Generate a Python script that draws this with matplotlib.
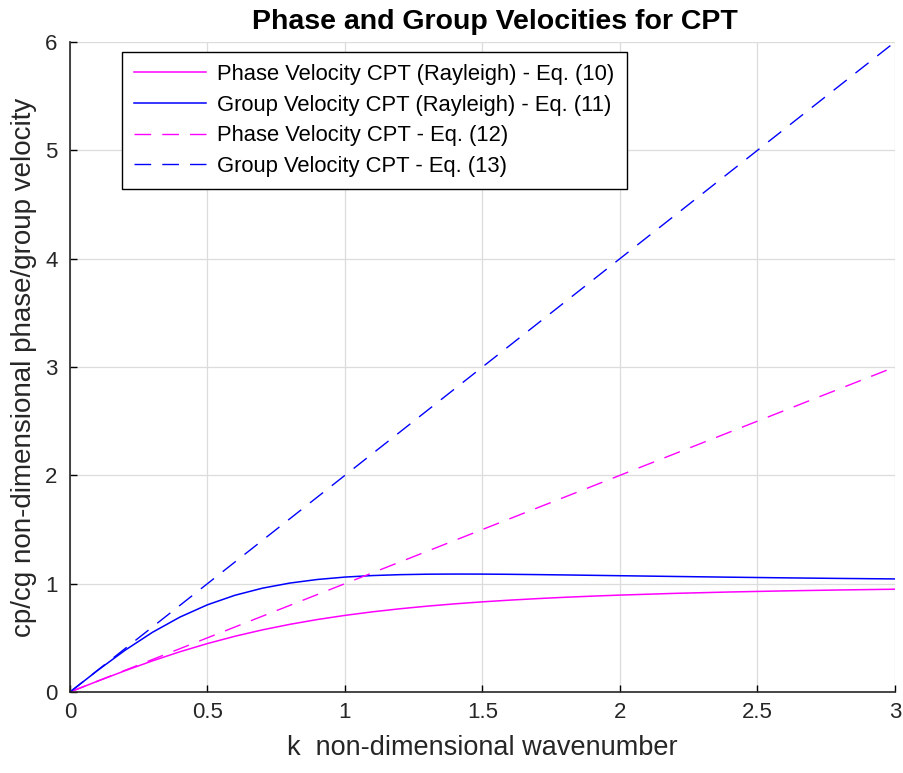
import matplotlib
matplotlib.use("Agg")
import matplotlib.pyplot as plt

plt.rcParams["font.family"] = ["Liberation Sans", "DejaVu Sans"]

# wavenumber samples (non-dimensional)
k = [0.0, 0.1, 0.2, 0.3, 0.4, 0.5, 0.6, 0.7, 0.8, 0.9, 1.0, 1.1, 1.2, 1.3,
     1.4, 1.5, 1.6, 1.7, 1.8, 1.9, 2.0, 2.2, 2.4, 2.6, 2.8, 3.0]

# Rayleigh phase velocity - Eq. (10)
cp_rayleigh = [0.0, 0.0995, 0.1961, 0.2873, 0.3714, 0.4472, 0.5145, 0.5735,
               0.6247, 0.6690, 0.7071, 0.7399, 0.7682, 0.7926, 0.8137, 0.8321,
               0.8480, 0.8619, 0.8742, 0.8849, 0.8944, 0.9104, 0.9231, 0.9333,
               0.9417, 0.9487]

# Rayleigh group velocity - Eq. (11)
cg_rayleigh = [0.0, 0.1980, 0.3847, 0.5509, 0.6916, 0.8050, 0.8928, 0.9584,
               1.0056, 1.0386, 1.0607, 1.0747, 1.0830, 1.0873, 1.0886, 1.0881,
               1.0862, 1.0835, 1.0804, 1.0769, 1.0733, 1.0663, 1.0597, 1.0536,
               1.0482, 1.0436]

# classical plate: phase - Eq. (12), group - Eq. (13)
k_cpt = [0.0, 3.0]
cp_cpt = [0.0, 3.0]
cg_cpt = [0.0, 6.0]

fig = plt.figure(figsize=(9.04, 7.73), dpi=100)
ax = fig.add_axes([0.0774, 0.1048, 0.9126, 0.8409])

dash = (0, (12, 8))
ax.plot(k, cp_rayleigh, color="#ff00ff", linewidth=1.1,
        label="Phase Velocity CPT (Rayleigh) - Eq. (10)")
ax.plot(k, cg_rayleigh, color="#0000ff", linewidth=1.1,
        label="Group Velocity CPT (Rayleigh) - Eq. (11)")
ax.plot(k_cpt, cp_cpt, color="#ff00ff", linewidth=1.0, linestyle=dash,
        label="Phase Velocity CPT - Eq. (12)")
ax.plot(k_cpt, cg_cpt, color="#0000ff", linewidth=1.0, linestyle=dash,
        label="Group Velocity CPT - Eq. (13)")

ax.set_xlim(0, 3)
ax.set_ylim(0, 6)
ax.set_xticks([0, 0.5, 1, 1.5, 2, 2.5, 3])
ax.set_xticklabels(["0", "0.5", "1", "1.5", "2", "2.5", "3"])
ax.set_yticks([0, 1, 2, 3, 4, 5, 6])
ax.tick_params(direction="in", length=5, width=1, labelsize=16,
               labelcolor="#262626", top=False, right=False)
ax.tick_params(axis="x", pad=7)
ax.tick_params(axis="y", pad=9)
ax.grid(True, color="#dcdcdc", linewidth=0.9)
for side in ("top", "right"):
    ax.spines[side].set_visible(False)
for side in ("left", "bottom"):
    ax.spines[side].set_linewidth(1.2)
    ax.spines[side].set_color("#262626")

ax.set_xlabel("k  non-dimensional wavenumber", fontsize=19.5, labelpad=9,
              color="#262626")
ax.set_ylabel("cp/cg non-dimensional phase/group velocity", fontsize=20,
              labelpad=6, color="#262626")
ax.set_title("Phase and Group Velocities for CPT", fontsize=20.5,
             fontweight="bold", pad=9, x=0.515)

leg = ax.legend(loc="upper left", bbox_to_anchor=(0.063, 0.9846), fontsize=15.8,
                fancybox=False, framealpha=1, edgecolor="black",
                handlelength=3.3, handletextpad=0.5, borderpad=0.55,
                labelspacing=0.44, borderaxespad=0)
leg.get_frame().set_linewidth(1.0)

fig.savefig("out.png", dpi=100)
